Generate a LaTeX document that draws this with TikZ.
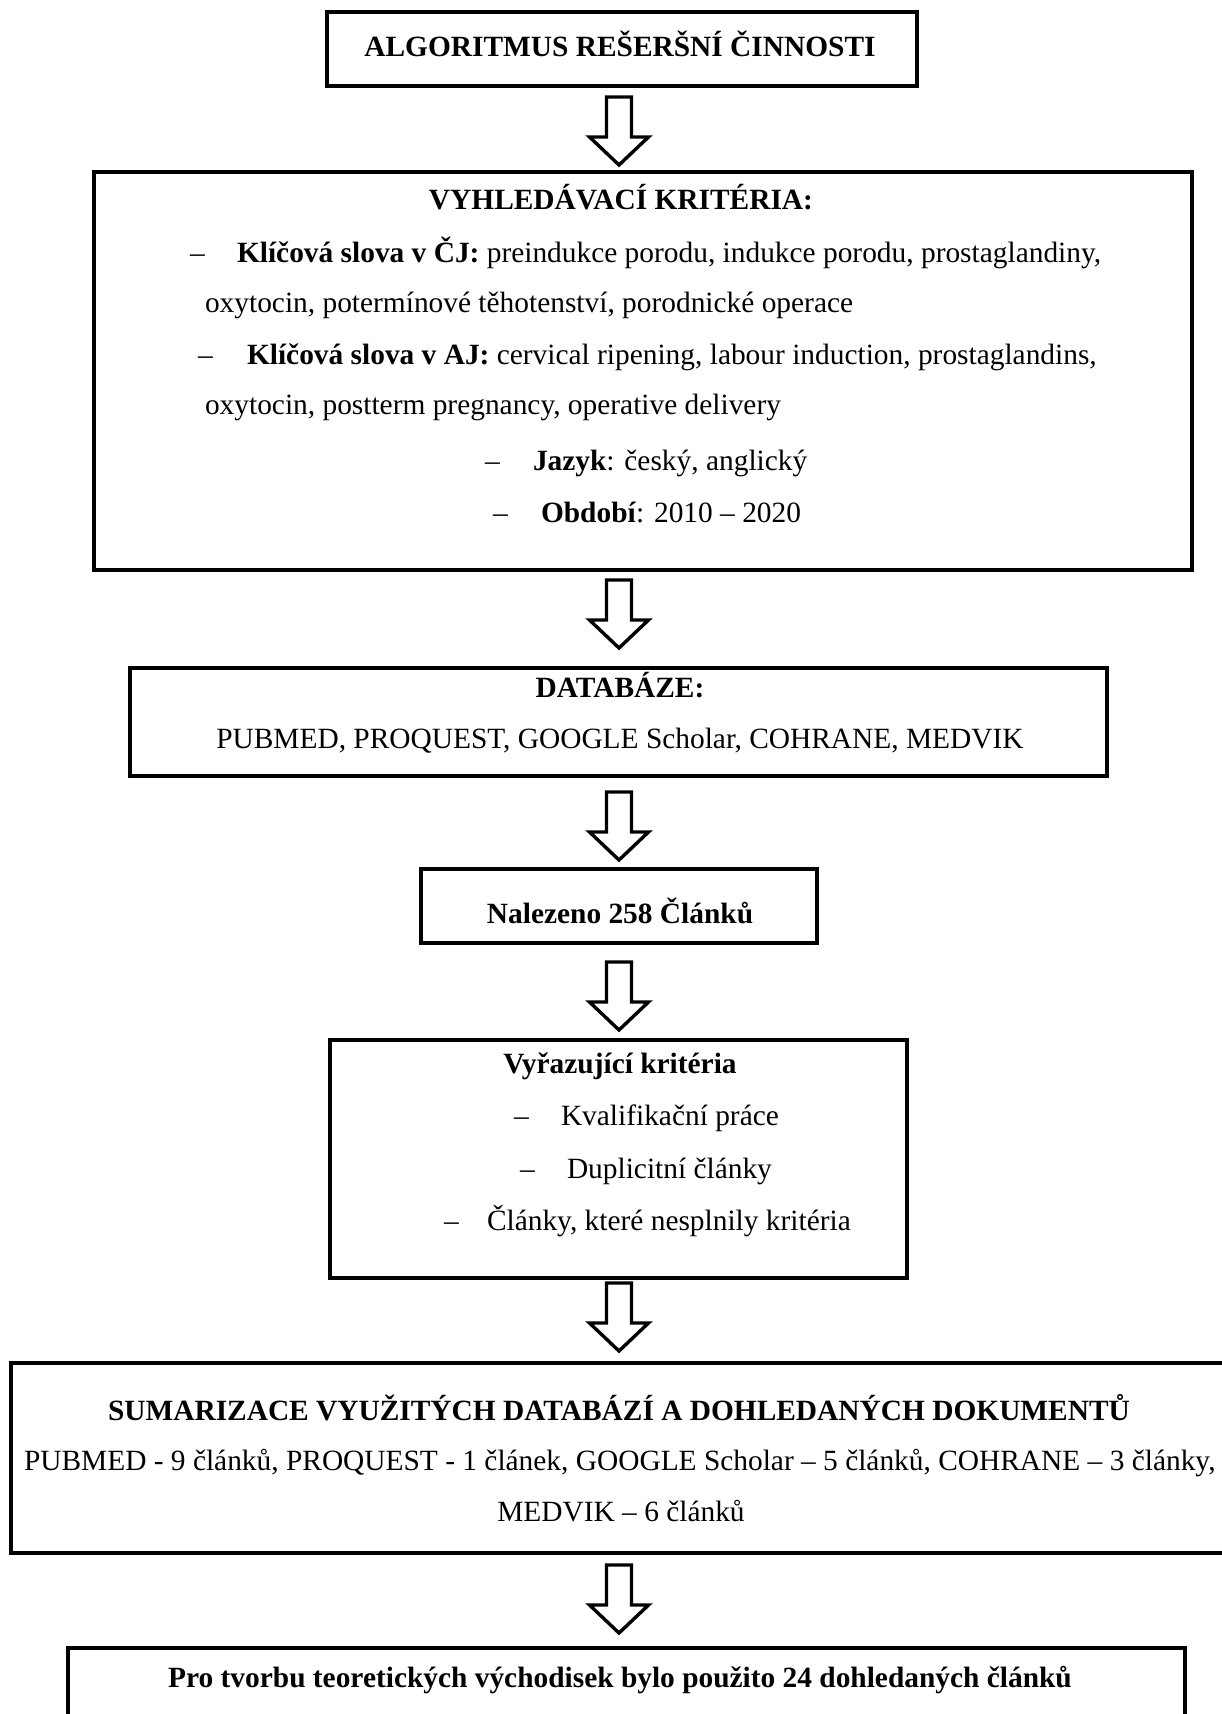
\documentclass[tikz,border=0pt]{standalone}
\usepackage{fontspec}
\setmainfont{Liberation Serif}
\usetikzlibrary{calc}
\def\u{0.411pt}
\tikzset{
  box/.style={draw=black, line width=1.65pt, rectangle, inner sep=0pt, outer sep=0pt, fill=none},
  txt/.style={inner sep=0pt, outer sep=0pt, font=\fontsize{12.08}{14}\selectfont},
  btxt/.style={txt, font=\fontsize{12.08}{14}\selectfont\bfseries},
  blockarrow/.style={draw=black, line width=1.4pt, line join=miter, fill=white}
}
\newcommand\hollowarrow[1]{%
  \draw[blockarrow] ($(#1)+(-12.5,0)$) -- ++(0,40) -- ++(-17,0) -- ++(29.5,28)
    -- ++(29.5,-28) -- ++(-17,0) -- ++(0,-40) -- cycle;}
\begin{document}
\begin{tikzpicture}[x=0.411pt, y=-0.411pt]
\useasboundingbox (0,0) rectangle (1221,1714);
\fill[white] (0,0) rectangle (1221,1714);
\coordinate (axis) at (619,0);

% boxes
\node[box, minimum width=590*\u, minimum height=74*\u] (b1) at (622,49) {};
\node[box, minimum width=1098*\u, minimum height=398*\u] (b2) at (643,371) {};
\node[box, minimum width=977*\u, minimum height=108*\u] (b3) at (618.5,722) {};
\node[box, minimum width=396*\u, minimum height=74*\u] (b4) at (619,906) {};
\node[box, minimum width=577*\u, minimum height=238*\u] (b5) at (618.5,1159) {};
\node[box, minimum width=1229*\u, minimum height=190*\u] (b6) at (625.5,1458) {};
\node[box, minimum width=1117*\u, minimum height=92*\u] (b7) at (626.5,1694) {};

% box 1
\node[btxt, anchor=base] (t1) at (620,57) {ALGORITMUS REŠERŠNÍ ČINNOSTI};

% box 2
\node[btxt, anchor=base] (t2a) at (621,210) {VYHLEDÁVACÍ KRITÉRIA:};
\node[txt, anchor=base west] (d2b) at (190,263) {–};
\node[txt, anchor=base west] (t2b) at (237,263) {\textbf{Klíčová slova v ČJ:} preindukce porodu, indukce porodu, prostaglandiny,};
\node[txt, anchor=base west] (t2c) at (205,313) {oxytocin, potermínové těhotenství, porodnické operace};
\node[txt, anchor=base west] (d2d) at (198,365) {–};
\node[txt, anchor=base west] (t2d) at (247,365) {\textbf{Klíčová slova v AJ:} cervical ripening, labour induction, prostaglandins,};
\node[txt, anchor=base west] (t2e) at (205,415) {oxytocin, postterm pregnancy, operative delivery};
\node[txt, anchor=base west] (d2f) at (485,470) {–};
\node[txt, anchor=base west] (t2f) at (533,470) {\textbf{Jazyk}: český, anglický};
\node[txt, anchor=base west] (d2g) at (493,522) {–};
\node[txt, anchor=base west] (t2g) at (541,522) {\textbf{Období}: 2010 – 2020};

% box 3
\node[btxt, anchor=base] (t3a) at (620,697) {DATABÁZE:};
\node[txt, anchor=base] (t3b) at (620,748) {PUBMED, PROQUEST, GOOGLE Scholar, COHRANE, MEDVIK};

% box 4
\node[btxt, anchor=base] (t4) at (620,923) {Nalezeno 258 Článků};

% box 5
\node[btxt, anchor=base] (t5a) at (620,1073) {Vyřazující kritéria};
\node[txt, anchor=base west] (d5b) at (514,1125) {–};
\node[txt, anchor=base west] (t5b) at (561,1125) {Kvalifikační práce};
\node[txt, anchor=base west] (d5c) at (520,1178) {–};
\node[txt, anchor=base west] (t5c) at (567,1178) {Duplicitní články};
\node[txt, anchor=base west] (d5d) at (444,1230) {–};
\node[txt, anchor=base west] (t5d) at (487,1230) {Články, které nesplnily kritéria};

% box 6
\node[btxt, anchor=base] (t6a) at (619,1420) {SUMARIZACE VYUŽITÝCH DATABÁZÍ A DOHLEDANÝCH DOKUMENTŮ};
\node[txt, anchor=base west] (t6b) at (24,1470) {PUBMED - 9 článků, PROQUEST - 1 článek, GOOGLE Scholar – 5 článků, COHRANE – 3 články,};
\node[txt, anchor=base] (t6c) at (621,1521) {MEDVIK – 6 článků};

% box 7
\node[btxt, anchor=base] (t7) at (620,1687) {Pro tvorbu teoretických východisek bylo použito 24 dohledaných článků};

% block arrows between boxes
\coordinate (a1) at ($(b1.south -| axis)+(0,11)$);
\coordinate (a2) at ($(b2.south -| axis)+(0,10)$);
\coordinate (a3) at ($(b3.south -| axis)+(0,16)$);
\coordinate (a4) at ($(b4.south -| axis)+(0,19)$);
\coordinate (a5) at ($(b5.south -| axis)+(0,5)$);
\coordinate (a6) at ($(b6.south -| axis)+(0,12)$);
\hollowarrow{a1}
\hollowarrow{a2}
\hollowarrow{a3}
\hollowarrow{a4}
\hollowarrow{a5}
\hollowarrow{a6}
\end{tikzpicture}
\end{document}
